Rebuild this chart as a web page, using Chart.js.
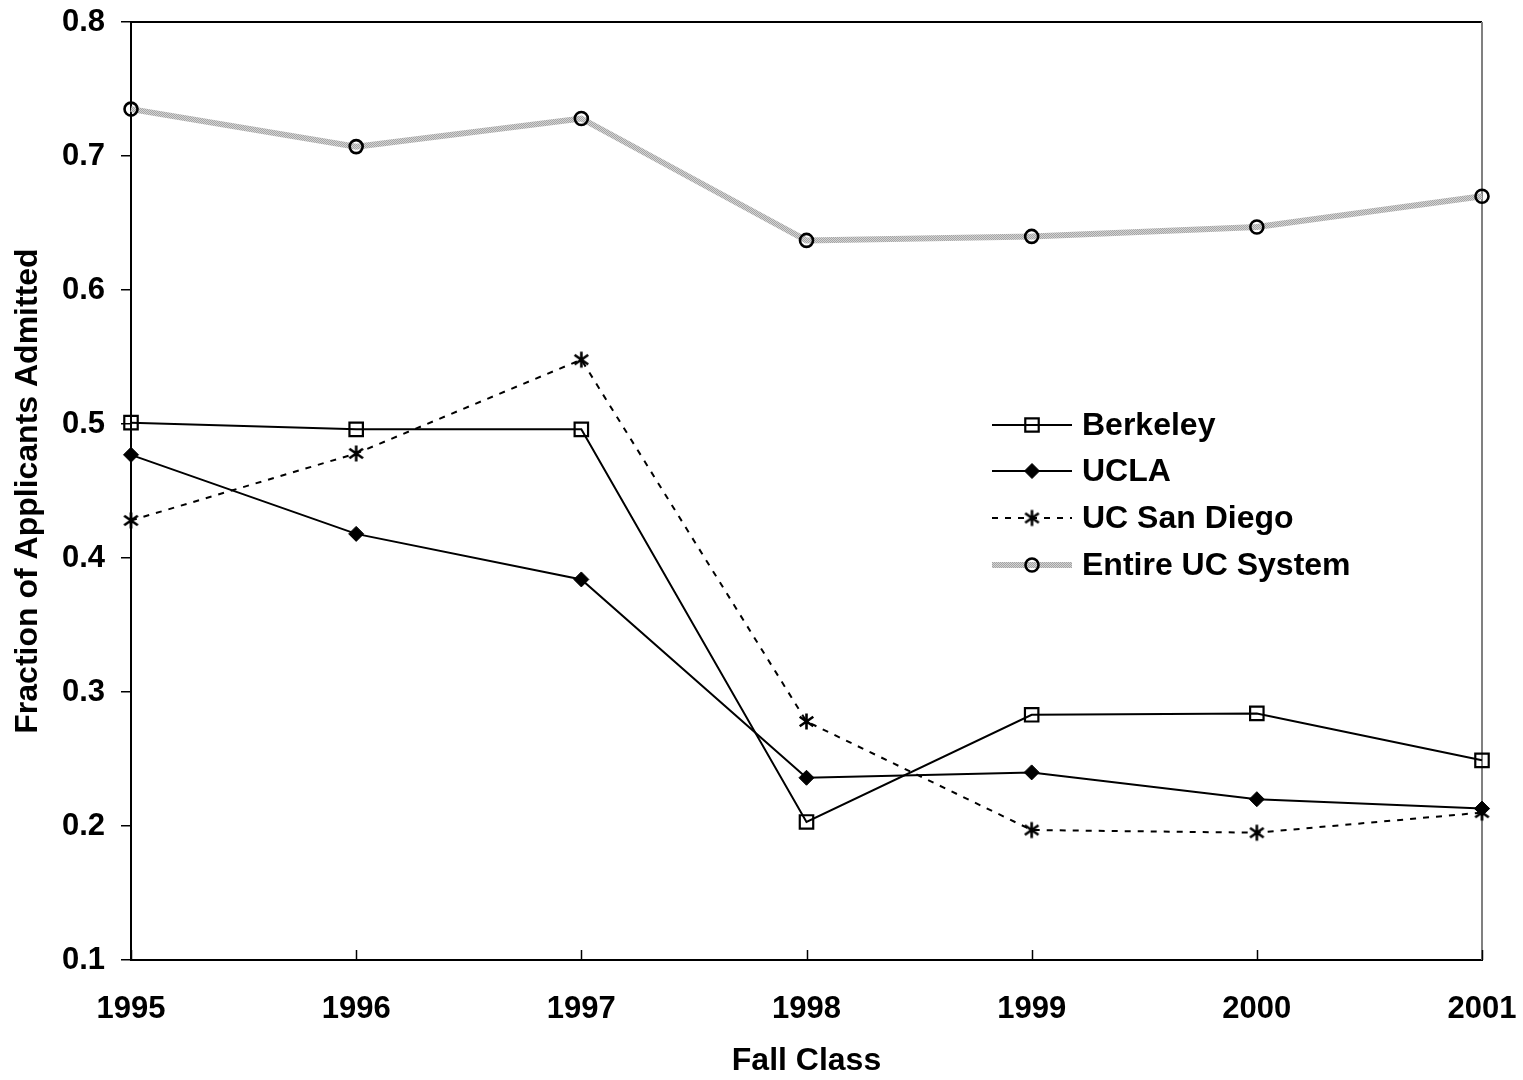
<!DOCTYPE html>
<html><head><meta charset="utf-8">
<script src="https://cdn.jsdelivr.net/npm/chart.js@4.4.1/dist/chart.umd.min.js"></script>
<style>html,body{margin:0;padding:0;background:#fff;}#wrap{width:1523px;height:1080px;position:relative;}</style>
</head><body><div id="wrap"><canvas id="c" width="1523" height="1080"></canvas></div>
<script>
const years = ['1995','1996','1997','1998','1999','2000','2001'];
const berkeley = [0.501, 0.496, 0.496, 0.203, 0.283, 0.284, 0.249];
const ucla = [0.477, 0.418, 0.384, 0.236, 0.240, 0.220, 0.213];
const ucsd = [0.428, 0.478, 0.548, 0.278, 0.197, 0.195, 0.210];
const ucSystem = [0.735, 0.707, 0.728, 0.637, 0.640, 0.647, 0.670];
const seriesNames = ['Berkeley','UCLA','UC San Diego','Entire UC System'];

const FONT = '"Liberation Sans", Arial, sans-serif';

// gray textured pattern for Entire UC line
const pc = document.createElement('canvas'); pc.width = 2; pc.height = 2;
const px = pc.getContext('2d');
px.fillStyle = '#d4d4d4'; px.fillRect(0,0,2,2);
px.fillStyle = '#a4a4a4'; px.fillRect(0,0,1,1); px.fillRect(1,1,1,1);
const grayPattern = document.getElementById('c').getContext('2d').createPattern(pc,'repeat');

// Excel-style asterisk marker (vertical bar + X)
const ast = document.createElement('canvas'); ast.width = 19; ast.height = 19;
(function(){
  const g = ast.getContext('2d');
  g.strokeStyle = '#000'; g.lineWidth = 2.6; g.lineCap = 'butt';
  const c = 9.5, r = 8;
  g.beginPath();
  g.moveTo(c, c - r); g.lineTo(c, c + r);
  const d = r * 0.85;
  g.moveTo(c - d, c - d * 0.7); g.lineTo(c + d, c + d * 0.7);
  g.moveTo(c - d, c + d * 0.7); g.lineTo(c + d, c - d * 0.7);
  g.stroke();
})();

const datasets = [
  {label: seriesNames[3], data: ucSystem, borderColor: grayPattern, borderWidth: 6,
   pointStyle:'circle', pointRadius:6.5, pointBorderColor:'#000', pointBorderWidth:2.6, pointBackgroundColor:'rgba(255,255,255,0)'},
  {label: seriesNames[2], data: ucsd, borderColor:'#000', borderWidth:2, borderDash:[6,7],
   pointStyle: ast, pointRadius:8, pointBorderColor:'#000', pointBorderWidth:2, pointBackgroundColor:'#000'},
  {label: seriesNames[1], data: ucla, borderColor:'#000', borderWidth:2,
   pointStyle:'rectRot', pointRadius:7.5, pointBorderColor:'#000', pointBorderWidth:1, pointBackgroundColor:'#000'},
  {label: seriesNames[0], data: berkeley, borderColor:'#000', borderWidth:2,
   pointStyle:'rect', pointRadius:9.5, pointBorderColor:'#000', pointBorderWidth:2.2, pointBackgroundColor:'rgba(255,255,255,0)'},
];
datasets.forEach(d => { d.fill = false; d.tension = 0; d.pointHoverRadius = d.pointRadius; });

const legendOrder = [3,2,1,0];

const framePlugin = {
  id: 'frame',
  beforeDatasetsDraw(chart) {
    const ctx = chart.ctx, a = chart.chartArea;
    ctx.save();
    ctx.lineWidth = 2;
    ctx.strokeStyle = '#000';
    ctx.beginPath(); ctx.moveTo(a.left, a.top); ctx.lineTo(a.right, a.top); ctx.stroke();
    ctx.strokeStyle = '#808080';
    ctx.beginPath(); ctx.moveTo(a.right, a.top); ctx.lineTo(a.right, a.bottom); ctx.stroke();
    // inward x ticks
    const xs = chart.scales.x;
    ctx.strokeStyle = '#000'; ctx.lineWidth = 1.5;
    for (let i = 0; i < years.length; i++) {
      const x = Math.round(xs.getPixelForValue(i)) + 0.5;
      ctx.beginPath(); ctx.moveTo(x, a.bottom); ctx.lineTo(x, a.bottom - 10); ctx.stroke();
    }
    ctx.restore();
  }
};

const legendPlugin = {
  id: 'customLegend',
  afterDraw(chart) {
    const ctx = chart.ctx;
    const lx0 = 992, lx1 = 1072, tx = 1082;
    const rows = [425, 471, 518, 565];
    legendOrder.forEach((di, r) => {
      const ds = chart.data.datasets[di];
      const y = rows[r];
      ctx.save();
      ctx.strokeStyle = ds.borderColor; ctx.lineWidth = ds.borderWidth;
      ctx.setLineDash(ds.borderDash || []);
      ctx.beginPath(); ctx.moveTo(lx0, y); ctx.lineTo(lx1, y); ctx.stroke();
      ctx.restore();
      ctx.save();
      ctx.fillStyle = ds.pointBackgroundColor; ctx.strokeStyle = ds.pointBorderColor; ctx.lineWidth = ds.pointBorderWidth;
      Chart.helpers.drawPoint(ctx, {pointStyle: ds.pointStyle, radius: ds.pointRadius, rotation: 0, borderWidth: ds.pointBorderWidth}, (lx0+lx1)/2, y);
      ctx.restore();
      ctx.save();
      ctx.fillStyle = '#000'; ctx.font = 'bold 32px ' + FONT; ctx.textBaseline = 'middle'; ctx.textAlign = 'left';
      ctx.fillText(ds.label, tx, y + 1);
      ctx.restore();
    });
  }
};

new Chart(document.getElementById('c'), {
  type: 'line',
  data: { labels: years, datasets },
  options: {
    responsive: false, animation: false, devicePixelRatio: 1,
    layout: { padding: { left: 0, right: 41, top: 22, bottom: 0 } },
    plugins: { legend: { display: false }, tooltip: { enabled: false } },
    scales: {
      x: {
        type: 'category', offset: false,
        grid: { display: false, drawTicks: false },
        border: { display: true, color: '#000', width: 2 },
        ticks: { color: '#000', font: { family: FONT, size: 31, weight: 'bold' }, padding: 31, maxRotation: 0, autoSkip: false },
        title: { display: true, text: 'Fall Class', color: '#000', font: { family: FONT, size: 32, weight: 'bold' }, padding: { top: 0, bottom: 0 } },
        afterFit(s) { s.height = 120; s.paddingLeft = 0; s.paddingRight = 0; }
      },
      y: {
        min: 0.1, max: 0.8,
        grid: { display: true, drawOnChartArea: false, drawTicks: true, tickLength: 10, color: '#000', lineWidth: 1.5 },
        border: { display: true, color: '#000', width: 2 },
        ticks: { stepSize: 0.1, color: '#000', font: { family: FONT, size: 31, weight: 'bold' }, padding: 16,
                 callback: v => (Math.round(v*10)/10).toFixed(1) },
        title: { display: true, text: 'Fraction of Applicants Admitted', color: '#000', font: { family: FONT, size: 32, weight: 'bold' }, padding: { top: 9, bottom: 0 } },
        afterFit(s) { s.width = 131; s.paddingTop = 0; s.paddingBottom = 0; }
      }
    }
  },
  plugins: [framePlugin, legendPlugin]
});
</script></body></html>
